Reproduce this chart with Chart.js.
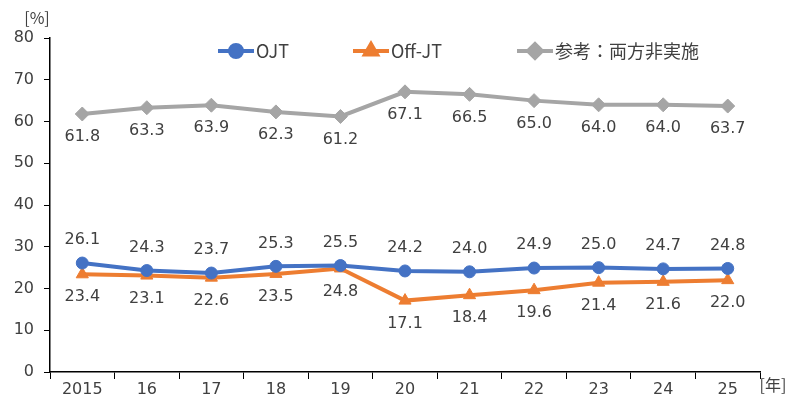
<!DOCTYPE html>
<html>
<head>
<meta charset="utf-8">
<script src="https://cdn.jsdelivr.net/npm/chart.js@4"></script>
<style>
  body { margin: 0; background: #fff; }
  #wrap { width: 800px; height: 407px; }
</style>
</head>
<body>
<div id="wrap"><canvas id="chart1"></canvas></div>
<script>
const years = ['2015', '16', '17', '18', '19', '20', '21', '22', '23', '24', '25'];
const ojt = [26.1, 24.3, 23.7, 25.3, 25.5, 24.2, 24.0, 24.9, 25.0, 24.7, 24.8];
const offJt = [23.4, 23.1, 22.6, 23.5, 24.8, 17.1, 18.4, 19.6, 21.4, 21.6, 22.0];
const neither = [61.8, 63.3, 63.9, 62.3, 61.2, 67.1, 66.5, 65.0, 64.0, 64.0, 63.7];
const yTicks = [0, 10, 20, 30, 40, 50, 60, 70, 80];

const FONT = '"Noto Sans CJK JP", "Noto Sans", sans-serif';
const NUMFONT = '"DejaVu Sans", "Noto Sans CJK JP", sans-serif';
const TEXT = '#404040';

// data labels: above for OJT, below for the others
const labelPlugin = {
  id: 'valueLabels',
  afterDatasetsDraw(chart) {
    const ctx = chart.ctx;
    ctx.save();
    ctx.font = '16px ' + NUMFONT;
    ctx.fillStyle = TEXT;
    ctx.textAlign = 'center';
    ctx.textBaseline = 'middle';
    chart.data.datasets.forEach((ds, i) => {
      const meta = chart.getDatasetMeta(i);
      meta.data.forEach((pt, j) => {
        const dy = ds.labelPos == 'top' ? -23 : 23;
        ctx.fillText(ds.data[j].toFixed(1), pt.x, pt.y + dy);
      });
    });
    ctx.restore();
  },
};

// legend with line + marker, inside the plot, plus unit labels
const legendPlugin = {
  id: 'customLegend',
  afterDraw(chart) {
    const ctx = chart.ctx;
    const items = [
      { x: 218, ds: chart.data.datasets[0] },
      { x: 353, ds: chart.data.datasets[1] },
      { x: 517, ds: chart.data.datasets[2] },
    ];
    const y = 51;
    ctx.save();
    items.forEach((it) => {
      const ds = it.ds;
      ctx.strokeStyle = ds.borderColor;
      ctx.lineWidth = 4;
      ctx.beginPath();
      ctx.moveTo(it.x, y);
      ctx.lineTo(it.x + 36, y);
      ctx.stroke();
      Chart.helpers.drawPoint(ctx, {
        pointStyle: ds.pointStyle,
        radius: ds.pointRadius,
        rotation: 0,
        borderWidth: 1,
      }, it.x + 18, y);
      ctx.fillStyle = ds.borderColor;
      ctx.fill();
      ctx.fillStyle = TEXT;
      ctx.font = '18px ' + FONT;
      ctx.textAlign = 'left';
      ctx.textBaseline = 'middle';
      ctx.fillText(ds.label, it.x + 38, y);
    });
    ctx.font = '16px ' + FONT;
    ctx.fillStyle = TEXT;
    ctx.textAlign = 'center';
    ctx.textBaseline = 'middle';
    ctx.fillText('[%]', 37, 18);
    ctx.fillText('[年]', 773, 385);
    ctx.restore();
  },
};

const ctx = document.getElementById('chart1').getContext('2d');
const chart1 = new Chart(ctx, {
  type: 'line',
  data: {
    labels: years,
    datasets: [
      {
        label: 'OJT',
        data: ojt,
        borderColor: '#4472C4',
        backgroundColor: '#4472C4',
        pointBackgroundColor: '#4472C4',
        pointStyle: 'circle',
        pointRadius: 6,
        pointBorderWidth: 1,
        borderWidth: 4,
        labelPos: 'top',
      },
      {
        label: 'Off-JT',
        data: offJt,
        borderColor: '#ED7D31',
        backgroundColor: '#ED7D31',
        pointBackgroundColor: '#ED7D31',
        pointStyle: 'triangle',
        pointRadius: 7,
        pointBorderWidth: 1,
        borderWidth: 4,
        labelPos: 'bottom',
      },
      {
        label: '参考：両方非実施',
        data: neither,
        borderColor: '#A5A5A5',
        backgroundColor: '#A5A5A5',
        pointBackgroundColor: '#A5A5A5',
        pointStyle: 'rectRot',
        pointRadius: 7,
        pointBorderWidth: 1,
        borderWidth: 4,
        labelPos: 'bottom',
      },
    ],
  },
  options: {
    responsive: true,
    maintainAspectRatio: false,
    animation: false,
    layout: { padding: { top: 38, right: 40, left: 0, bottom: 0 } },
    plugins: {
      legend: { display: false },
      tooltip: { enabled: false },
    },
    scales: {
      x: {
        offset: true,
        grid: { offset: true, drawOnChartArea: false, drawTicks: true, tickLength: 7, color: '#000' },
        border: { color: '#000', width: 1.5 },
        ticks: { color: TEXT, font: { family: NUMFONT, size: 16 }, padding: 1, maxRotation: 0 },
        afterFit(scale) { scale.height = 35; },
      },
      y: {
        min: 0,
        max: 80,
        afterBuildTicks(scale) { scale.ticks = yTicks.map((v) => ({ value: v })); },
        grid: { drawOnChartArea: false, drawTicks: true, tickLength: 6, color: '#000' },
        border: { color: '#000', width: 1.5 },
        ticks: { color: TEXT, font: { family: NUMFONT, size: 16 }, padding: 10 },
        afterFit(scale) { scale.width = 50; },
      },
    },
  },
  plugins: [labelPlugin, legendPlugin],
});
</script>
</body>
</html>
